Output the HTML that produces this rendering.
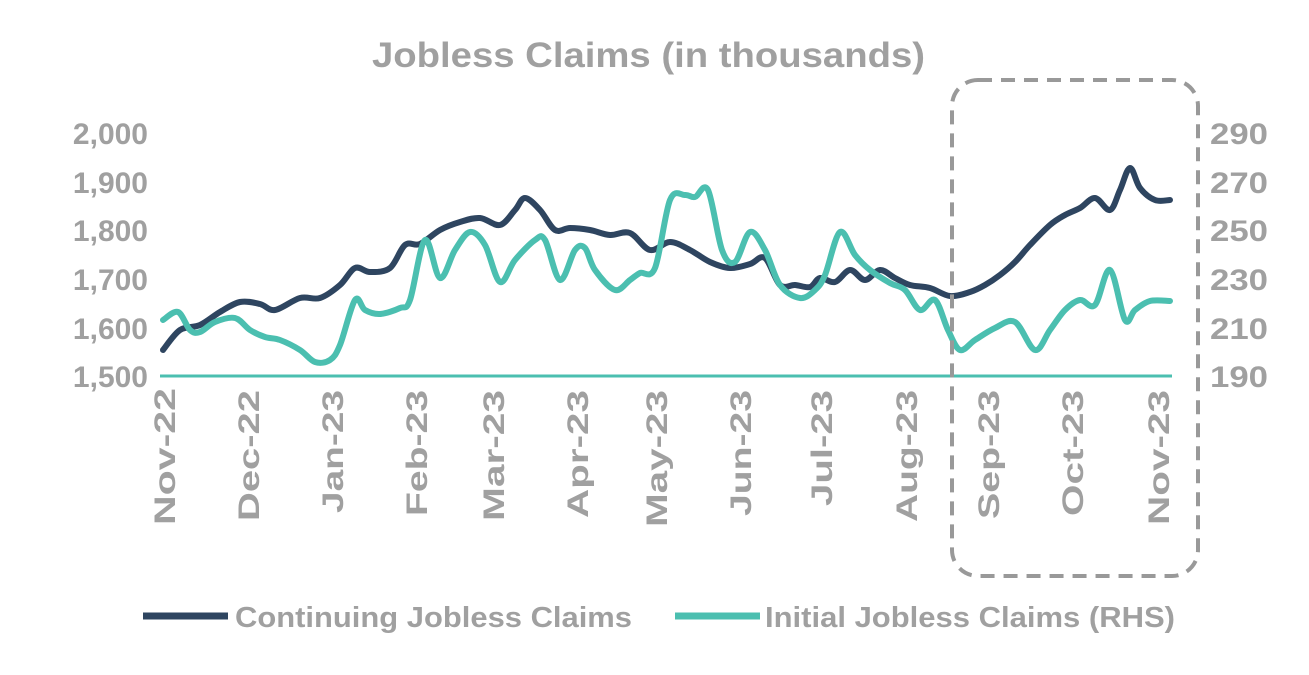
<!DOCTYPE html>
<html><head><meta charset="utf-8"><style>
body{margin:0;background:#fff;}
svg text{font-family:"Liberation Sans",sans-serif;font-weight:bold;fill:#a0a0a0;}
</style></head><body>
<svg width="1309" height="670" viewBox="0 0 1309 670">
<text x="372" y="67" font-size="35" textLength="553" lengthAdjust="spacingAndGlyphs">Jobless Claims (in thousands)</text>
<g font-size="30" text-anchor="end">
<text x="148" y="144">2,000</text><text x="148" y="193">1,900</text><text x="148" y="241">1,800</text>
<text x="148" y="290">1,700</text><text x="148" y="339">1,600</text><text x="148" y="387">1,500</text>
</g>
<g font-size="30" text-anchor="start">
<text x="1210" y="144" textLength="58" lengthAdjust="spacingAndGlyphs">290</text><text x="1210" y="193" textLength="58" lengthAdjust="spacingAndGlyphs">270</text><text x="1210" y="241" textLength="58" lengthAdjust="spacingAndGlyphs">250</text>
<text x="1210" y="290" textLength="58" lengthAdjust="spacingAndGlyphs">230</text><text x="1210" y="339" textLength="58" lengthAdjust="spacingAndGlyphs">210</text><text x="1210" y="387" textLength="58" lengthAdjust="spacingAndGlyphs">190</text>
</g>
<line x1="160" y1="376" x2="1172" y2="376" stroke="#4bbfb0" stroke-width="3"/>
<g font-size="30">
<text transform="translate(175,525) rotate(-90)" textLength="137" lengthAdjust="spacingAndGlyphs">Nov-22</text>
<text transform="translate(259,521) rotate(-90)" textLength="131" lengthAdjust="spacingAndGlyphs">Dec-22</text>
<text transform="translate(343,513) rotate(-90)" textLength="123" lengthAdjust="spacingAndGlyphs">Jan-23</text>
<text transform="translate(427,516) rotate(-90)" textLength="126" lengthAdjust="spacingAndGlyphs">Feb-23</text>
<text transform="translate(504,521) rotate(-90)" textLength="131" lengthAdjust="spacingAndGlyphs">Mar-23</text>
<text transform="translate(588,518) rotate(-90)" textLength="128" lengthAdjust="spacingAndGlyphs">Apr-23</text>
<text transform="translate(667,527) rotate(-90)" textLength="137" lengthAdjust="spacingAndGlyphs">May-23</text>
<text transform="translate(751,516) rotate(-90)" textLength="126" lengthAdjust="spacingAndGlyphs">Jun-23</text>
<text transform="translate(832,506) rotate(-90)" textLength="116" lengthAdjust="spacingAndGlyphs">Jul-23</text>
<text transform="translate(917,522) rotate(-90)" textLength="132" lengthAdjust="spacingAndGlyphs">Aug-23</text>
<text transform="translate(999,519) rotate(-90)" textLength="129" lengthAdjust="spacingAndGlyphs">Sep-23</text>
<text transform="translate(1083,516) rotate(-90)" textLength="126" lengthAdjust="spacingAndGlyphs">Oct-23</text>
<text transform="translate(1169,525) rotate(-90)" textLength="135" lengthAdjust="spacingAndGlyphs">Nov-23</text>
</g>
<path id="d" fill="none" stroke="#2e4560" stroke-width="6" stroke-linejoin="round" stroke-linecap="round"/>
<path id="t" fill="none" stroke="#4bbfb0" stroke-width="6" stroke-linejoin="round" stroke-linecap="round"/>
<rect x="952" y="80" width="246" height="496" rx="26" fill="none" stroke="#999" stroke-width="4" stroke-dasharray="14 9"/>
<line x1="143" y1="616" x2="228" y2="616" stroke="#2e4560" stroke-width="7"/>
<text x="235" y="627" font-size="29" textLength="397" lengthAdjust="spacingAndGlyphs">Continuing Jobless Claims</text>
<line x1="675" y1="616" x2="760" y2="616" stroke="#4bbfb0" stroke-width="7"/>
<text x="765" y="627" font-size="29" textLength="410" lengthAdjust="spacingAndGlyphs">Initial Jobless Claims (RHS)</text>
</svg>
<script>
function sm(s){var p=s.trim().split(/\s+/).map(function(q){return q.split(',').map(Number)});
var d='M'+p[0][0]+','+p[0][1];
for(var i=0;i<p.length-1;i++){var p0=p[i-1]||p[i],p1=p[i],p2=p[i+1],p3=p[i+2]||p2;
d+=' C'+(p1[0]+(p2[0]-p0[0])/6)+','+(p1[1]+(p2[1]-p0[1])/6)+' '+(p2[0]-(p3[0]-p1[0])/6)+','+(p2[1]-(p3[1]-p1[1])/6)+' '+p2[0]+','+p2[1];}
return d;}
document.getElementById('d').setAttribute('d',sm("163,350 180,330 200,325 220,312 240,302 260,304 275,310 300,298 320,298 340,285 355,268 370,272 390,268 405,245 420,244 440,230 460,222 480,218 500,225 515,210 525,198 540,210 555,230 570,228 590,230 610,235 630,233 650,250 670,242 690,250 710,262 730,268 750,264 765,258 780,285 795,285 810,287 820,278 835,282 850,270 865,280 880,270 895,278 910,285 930,288 950,296 970,292 985,285 1000,275 1015,262 1030,245 1050,225 1065,215 1080,208 1095,198 1110,210 1120,190 1130,168 1140,188 1155,200 1170,200"));
document.getElementById('t').setAttribute('d',sm("163,320 178,312 190,330 200,332 215,322 235,318 250,330 265,337 280,340 300,350 315,362 330,360 340,345 355,300 365,310 380,314 400,308 410,300 425,240 440,278 455,250 470,232 485,245 500,282 515,260 535,240 545,240 560,280 575,250 585,248 595,270 615,290 630,280 640,273 655,268 670,200 685,195 695,197 708,190 722,250 735,262 750,232 765,250 780,285 800,298 815,290 825,275 840,232 855,255 870,270 890,283 905,290 920,310 935,300 948,330 960,350 975,340 995,328 1015,322 1035,350 1050,330 1065,310 1080,300 1095,305 1110,270 1125,320 1135,310 1150,301 1170,301"));
</script>
</body></html>
